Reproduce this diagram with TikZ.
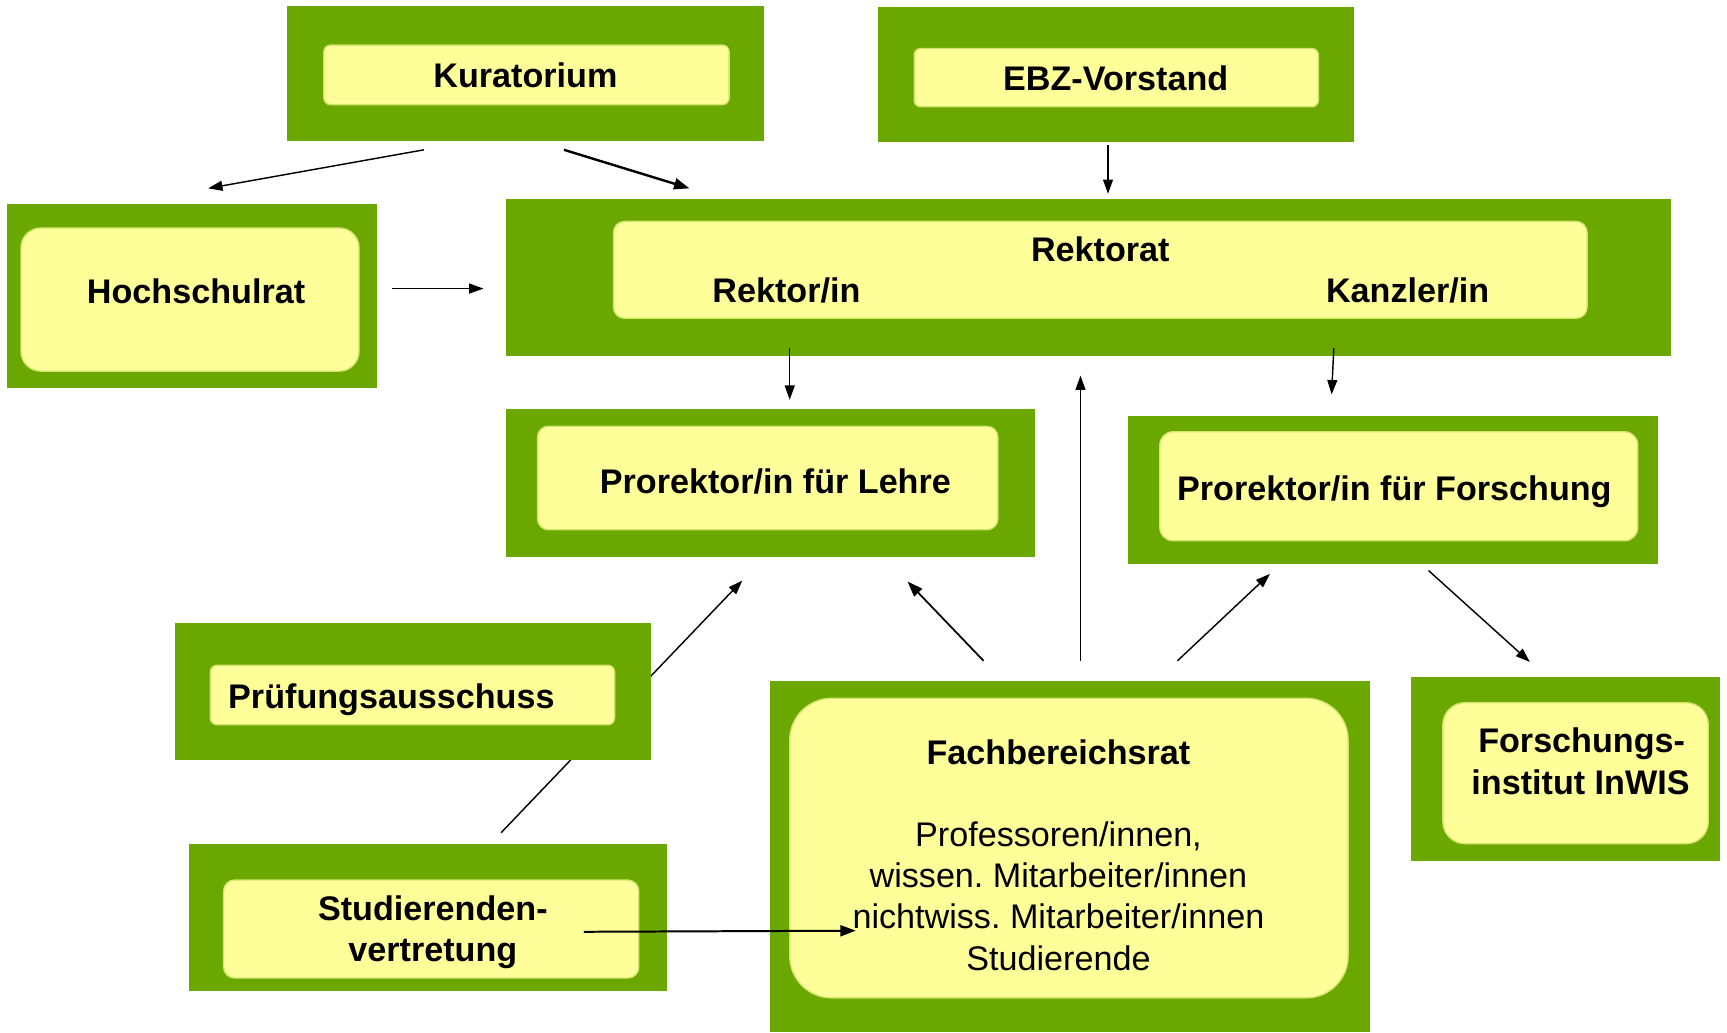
\documentclass[tikz,border=0pt]{standalone}
\usepackage{fontspec}
\setmainfont{Liberation Sans}
\usetikzlibrary{arrows.meta}
\definecolor{boxgreen}{RGB}{106,168,0}
\definecolor{boxyellow}{RGB}{255,255,153}
\definecolor{rimgreen}{RGB}{210,228,110}
\frenchspacing
\begin{document}
\begin{tikzpicture}[x=1pt,y=-1pt,
  outerbox/.style={rectangle, fill=boxgreen, inner sep=0pt, outer sep=0pt},
  innerbox/.style={rectangle, fill=boxyellow, draw=rimgreen, line width=1.2pt, inner sep=0pt},
  boldtext/.style={font=\fontsize{31}{37}\selectfont\bfseries, anchor=base, inner sep=0pt},
  normaltext/.style={font=\fontsize{31}{37}\selectfont\frenchspacing, anchor=base, inner sep=0pt},
  conn/.style={line width=1.3pt, -{Triangle[length=13pt,width=9pt]}},
  thickconn/.style={line width=2.2pt, -{Triangle[length=14pt,width=10pt]}}]
\useasboundingbox (0,0) rectangle (1568,937);

% connector end points
\coordinate (svTop) at (455,756);
\coordinate (plIn1) at (674,527);
\coordinate (kurL) at (385,136);
\coordinate (hrIn) at (189,171);
\coordinate (kurR) at (512,136);
\coordinate (rkIn1) at (626,171);
\coordinate (ebzOut) at (1006,132);
\coordinate (rkIn2) at (1006,176);
\coordinate (hrOut) at (356,262);
\coordinate (rkIn3) at (439,262);
\coordinate (rkOutL) at (717,316);
\coordinate (plIn2) at (717,363);
\coordinate (rkOutR) at (1211,316);
\coordinate (pfIn1) at (1209,358);
\coordinate (fbOutM) at (981,600);
\coordinate (rkIn4) at (981,341);
\coordinate (fbOutL) at (893,600);
\coordinate (plIn3) at (824,528);
\coordinate (fbOutR) at (1069,600);
\coordinate (pfIn2) at (1153,521);
\coordinate (pfOut) at (1297,518);
\coordinate (fiIn) at (1389,601);
\coordinate (svOut) at (530,846);
\coordinate (fbIn) at (777,845);

% line from Studierendenvertretung to Prorektor Lehre (passes behind Pruefungsausschuss)
\draw[conn] (svTop) -- (plIn1);

% Kuratorium
\node[outerbox, minimum width=433, minimum height=123] (kurO) at (477.5,66.5) {};
\node[innerbox, rounded corners=6pt, minimum width=368, minimum height=54] (kurI) at (478,68) {};
\node[boldtext] (kurT) at (477,79) {Kuratorium};

% EBZ-Vorstand
\node[outerbox, minimum width=432, minimum height=123] (ebzO) at (1013,67.5) {};
\node[innerbox, rounded corners=6pt, minimum width=367, minimum height=53] (ebzI) at (1013.5,70.5) {};
\node[boldtext] (ebzT) at (1013,82) {EBZ-Vorstand};

% Hochschulrat
\node[outerbox, minimum width=336, minimum height=167] (hrO) at (174,268.5) {};
\node[innerbox, rounded corners=18pt, minimum width=307, minimum height=130] (hrI) at (172.5,272) {};
\node[boldtext] (hrT) at (178,276) {Hochschulrat};

% Rektorat
\node[outerbox, minimum width=1058, minimum height=142] (rkO) at (988,252) {};
\node[innerbox, rounded corners=10pt, minimum width=884, minimum height=88] (rkI) at (999,245) {};
\node[boldtext] (rkT) at (999,237) {Rektorat};
\node[boldtext] (rkR) at (714,275) {Rektor/in};
\node[boldtext] (rkK) at (1278,275) {Kanzler/in};

% Prorektor Lehre
\node[outerbox, minimum width=481, minimum height=135] (plO) at (699.5,438.5) {};
\node[innerbox, rounded corners=10pt, minimum width=418, minimum height=94] (plI) at (697,434) {};
\node[boldtext] (plT) at (704,448) {Prorektor/in für Lehre};

% Prorektor Forschung
\node[outerbox, minimum width=481, minimum height=134] (pfO) at (1264.5,445) {};
\node[innerbox, rounded corners=12pt, minimum width=434, minimum height=99] (pfI) at (1270,441.5) {};
\node[boldtext] (pfT) at (1266,454) {Prorektor/in für Forschung};

% Pruefungsausschuss
\node[outerbox, minimum width=432, minimum height=124] (paO) at (375,628) {};
\node[innerbox, rounded corners=6pt, minimum width=367, minimum height=54] (paI) at (374.5,631) {};
\node[boldtext, anchor=base west] (paT) at (207,643) {Prüfungsausschuss};

% Studierendenvertretung
\node[outerbox, minimum width=434, minimum height=134] (svO) at (389,833) {};
\node[innerbox, rounded corners=10pt, minimum width=377, minimum height=89] (svI) at (391.5,843.5) {};
\node[boldtext] (svT1) at (393,836) {Studierenden-};
\node[boldtext] (svT2) at (393,873) {vertretung};

% Fachbereichsrat
\node[outerbox, minimum width=545, minimum height=319] (fbO) at (971.5,777.5) {};
\node[innerbox, rounded corners=38pt, minimum width=507, minimum height=272] (fbI) at (970.5,770) {};
\node[boldtext] (fbT) at (961,694) {Fachbereichsrat};
\node[normaltext] (fbL1) at (961,769) {Professoren/innen,};
\node[normaltext] (fbL2) at (961,806) {wissen. Mitarbeiter/innen};
\node[normaltext] (fbL3) at (961,843) {nichtwiss. Mitarbeiter/innen};
\node[normaltext] (fbL4) at (961,881) {Studierende};

% Forschungsinstitut
\node[outerbox, minimum width=281, minimum height=167] (fiO) at (1421.5,698.5) {};
\node[innerbox, rounded corners=20pt, minimum width=241, minimum height=128] (fiI) at (1430.5,702) {};
\node[boldtext] (fiT1) at (1436,683) {Forschungs-};
\node[boldtext] (fiT2) at (1435,721) {institut InWIS};

% connectors
\draw[conn] (kurL) -- (hrIn);
\draw[thickconn] (kurR) -- (rkIn1);
\draw[conn] (ebzOut) -- (rkIn2);
\draw[conn] (hrOut) -- (rkIn3);
\draw[conn] (rkOutL) -- (plIn2);
\draw[conn] (rkOutR) -- (pfIn1);
\draw[conn] (fbOutM) -- (rkIn4);
\draw[thickconn, line width=1.6pt] (fbOutL) -- (plIn3);
\draw[conn] (fbOutR) -- (pfIn2);
\draw[conn] (pfOut) -- (fiIn);
\draw[thickconn, line width=1.8pt] (svOut) -- (fbIn);
\end{tikzpicture}
\end{document}
